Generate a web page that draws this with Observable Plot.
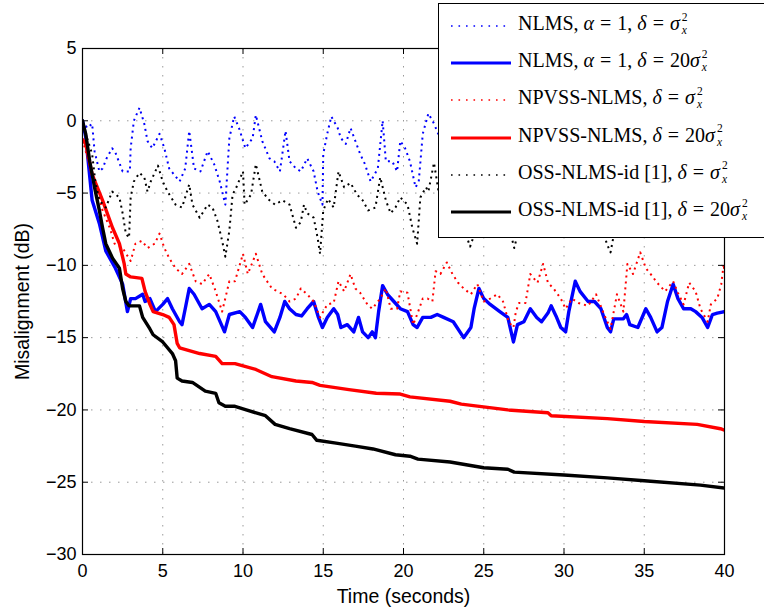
<!DOCTYPE html>
<html>
<head>
<meta charset="utf-8">
<script src="https://cdn.jsdelivr.net/npm/d3@7"></script>
<script src="https://cdn.jsdelivr.net/npm/@observablehq/plot@0.6"></script>
<style>
  html, body { margin: 0; padding: 0; background: #fff; overflow: hidden; }
  #wrap { position: relative; width: 764px; height: 607px; }
  #legend {
    position: absolute; left: 438px; top: 3px; width: 340px; height: 233px;
    background: #fff; border: 1px solid #000;
    font-family: "Liberation Serif", "Times New Roman", serif; font-size: 20px; color: #000;
  }
  .row { position: absolute; left: 0; width: 100%; height: 30px; }
  .row svg { position: absolute; left: 11px; top: 15px; }
  .row .lab { position: absolute; left: 79px; top: 2px; white-space: nowrap; line-height: 26px; }
  .rel { margin: 0 0.3em; }
  .ss { display: inline-block; vertical-align: -4px; font-size: 11.5px; line-height: 13.5px; margin-left: 2px; }
  .ss span, .ss i { display: block; }
</style>
</head>
<body>
<div id="wrap"><div id="legend"></div></div>
<script>
// Misalignment (dB) versus time (s) for the six adaptive-filter configurations.
const xTicks = [0, 5, 10, 15, 20, 25, 30, 35, 40];
const yTicks = [-30, -25, -20, -15, -10, -5, 0, 5];

// NLMS, alpha = 1, delta = sigma_x^2
const nlmsSmallDelta = [
  [0, 0], [0.3, -0.5], [0.6, -0.2], [0.75, -2.1], [1.05, -3.5], [1.25, -3.3], [1.5, -2.6], [1.85, -1.9],
  [2.05, -2.2], [2.5, -3.5], [2.95, -3.5], [3.0, -1.9], [3.2, 0], [3.55, 0.9], [3.85, -0.2], [4.05, -1.4],
  [4.35, -1.9], [4.8, -0.9], [5.1, -1.9], [5.4, -3.3], [6.05, -4.2], [6.4, -3.3], [6.65, -0.7], [6.95, -3.3],
  [7.35, -3.5], [7.8, -2.1], [8.2, -3.0], [8.55, -4.2], [8.9, -5.8], [9.15, -1.2], [9.45, 0.3], [9.75, -0.5],
  [10.15, -1.9], [10.6, -1.2], [10.8, 0.4], [11.2, -1.4], [11.65, -2.6], [11.95, -2.8], [12.3, -3.5], [12.65, -0.7],
  [12.9, -2.8], [13.3, -3.3], [13.6, -3.5], [14.0, -2.6], [14.4, -3.5], [14.65, -4.9], [14.95, -5.8], [15.0, -2.3],
  [15.25, -0.9], [15.5, 0.3], [15.9, -0.5], [16.1, -1.2], [16.4, -1.6], [16.7, -0.5], [17.0, -1.4], [17.3, -2.3],
  [17.6, -3.0], [17.95, -4.2], [18.4, -3.3], [18.7, 0], [18.9, -2.8], [19.3, -2.8], [19.6, -3.5], [19.8, -1.4],
  [20.1, -1.9], [20.4, -2.8], [20.75, -4.6], [20.95, -4.2], [21.2, -0.9], [21.55, 0.5], [21.9, -0.2], [22.2, -1.0]
];

// NLMS, alpha = 1, delta = 20 sigma_x^2
const nlmsLargeDelta = [
  [0, 0], [0.2, -1.1], [0.6, -5.5], [1.05, -7.1], [1.45, -9.0], [2.05, -10.2], [2.5, -11.3], [2.8, -13.2],
  [3.0, -12.3], [3.3, -12.3], [3.75, -12.0], [3.9, -12.5], [4.2, -12.3], [4.55, -13.2], [5.0, -12.7], [5.3, -12.3],
  [5.6, -13.0], [6.05, -13.9], [6.2, -14.1], [6.4, -13.0], [6.65, -11.6], [6.95, -12.0], [7.45, -13.0], [7.9, -12.7],
  [8.3, -13.2], [8.85, -14.6], [9.15, -13.4], [9.8, -13.2], [10.15, -13.6], [10.6, -14.3], [11.1, -12.7], [11.4, -13.9],
  [11.95, -14.6], [12.3, -13.6], [12.6, -12.5], [12.9, -13.0], [13.3, -13.4], [13.65, -13.5], [14.0, -13.0], [14.4, -12.5],
  [14.7, -13.6], [14.95, -14.3], [15.25, -13.6], [15.65, -13.0], [15.9, -13.4], [16.1, -14.3], [16.5, -14.1], [16.9, -14.6],
  [17.2, -13.6], [17.45, -14.6], [17.8, -15.0], [18.05, -14.6], [18.25, -15.0], [18.45, -13.2], [18.7, -11.4], [19.0, -12.0],
  [19.4, -12.5], [19.8, -13.0], [20.25, -13.2], [20.6, -14.1], [20.85, -14.3], [21.2, -13.6], [21.7, -13.6], [22.1, -13.4],
  [22.5, -13.6], [23.1, -13.9], [23.75, -15.0], [24.2, -14.3], [24.4, -13.0], [24.7, -11.6], [25.0, -12.3], [25.4, -12.7],
  [26.0, -13.2], [26.5, -13.6], [26.85, -15.3], [27.1, -14.1], [27.5, -13.9], [27.9, -13.0], [28.3, -13.6], [28.6, -13.9],
  [29.0, -13.3], [29.2, -12.8], [29.5, -13.5], [29.8, -14.3], [30.1, -14.6], [30.3, -13.2], [30.7, -11.1], [31.0, -11.8],
  [31.5, -12.5], [31.9, -12.5], [32.3, -13.0], [32.7, -14.3], [32.9, -14.6], [33.1, -13.7], [33.7, -13.7], [33.9, -13.4],
  [34.1, -14.1], [34.6, -14.3], [35.1, -13.0], [35.4, -13.6], [35.8, -14.6], [36.1, -14.3], [36.45, -12.5], [36.8, -11.3],
  [37.1, -12.3], [37.45, -13.0], [37.9, -13.0], [38.2, -13.2], [38.6, -13.6], [38.95, -14.3], [39.25, -13.4], [39.55, -13.3],
  [40, -13.2]
];

// NPVSS-NLMS, delta = sigma_x^2
const npvssSmallDelta = [
  [0, -1.3], [0.6, -3.7], [1.25, -6.2], [1.7, -7.4], [2.0, -8.5], [2.5, -8.8], [3.0, -9.7], [3.3, -8.5],
  [3.7, -8.3], [4.05, -8.8], [4.5, -8.5], [4.8, -7.8], [5.1, -8.8], [5.4, -9.5], [5.8, -10.2], [6.2, -10.6],
  [6.65, -9.9], [7.05, -11.1], [7.45, -11.3], [7.9, -10.6], [8.3, -11.8], [8.7, -13.2], [9.15, -11.1], [9.5, -11.1],
  [10.0, -9.2], [10.3, -10.6], [10.8, -9.2], [11.2, -10.6], [11.8, -11.6], [12.5, -12.0], [12.9, -12.5], [13.3, -12.3],
  [13.6, -11.6], [14.0, -12.0], [14.4, -12.5], [14.8, -13.6], [15.25, -12.7], [15.65, -12.6], [15.95, -11.1], [16.3, -11.8],
  [16.7, -10.6], [17.0, -11.6], [17.3, -11.9], [17.75, -12.7], [18.05, -13.0], [18.55, -12.3], [18.9, -11.6], [19.2, -13.0],
  [19.6, -13.0], [19.8, -11.8], [20.25, -11.9], [20.6, -14.1], [20.85, -13.4], [21.2, -12.3], [21.5, -12.3], [21.8, -12.5],
  [22.0, -10.4], [22.3, -10.6], [22.7, -9.8], [23.05, -10.6], [23.4, -11.2], [23.75, -11.6], [24.2, -12.0], [24.6, -11.3],
  [25.0, -12.5], [25.4, -12.3], [25.85, -12.0], [26.2, -12.5], [26.55, -13.9], [26.85, -14.3], [27.0, -13.2], [27.2, -12.6],
  [27.6, -12.6], [27.9, -10.6], [28.35, -11.2], [28.7, -9.9], [29.0, -11.2], [29.35, -11.6], [29.8, -12.3], [30.1, -13.0],
  [30.5, -12.3], [30.9, -12.6], [31.5, -12.8], [32.0, -12.0], [32.5, -13.4], [32.9, -14.4], [33.3, -12.0], [33.7, -13.2],
  [33.95, -9.9], [34.3, -10.6], [34.75, -9.1], [35.1, -10.2], [35.4, -10.6], [35.8, -11.2], [36.3, -11.8], [36.8, -11.1],
  [37.1, -11.9], [37.45, -12.7], [37.8, -11.2], [38.2, -11.8], [38.5, -13.0], [38.95, -13.9], [39.15, -12.7], [39.55, -12.3],
  [39.8, -11.3], [39.95, -9.9], [40, -10.5]
];

// NPVSS-NLMS, delta = 20 sigma_x^2
const npvssLargeDelta = [
  [0, -1.3], [0.2, -1.6], [0.6, -3.7], [1.25, -5.5], [1.87, -7.4], [2.3, -8.5], [2.6, -9.9], [2.7, -10.6],
  [3.0, -10.8], [3.7, -10.9], [3.9, -11.8], [4.2, -12.7], [4.4, -13.2], [5.0, -13.4], [5.4, -13.6], [5.7, -14.1],
  [5.9, -15.4], [6.05, -15.7], [7.3, -16.1], [8.3, -16.3], [8.7, -16.8], [9.5, -16.8], [10.8, -17.2], [11.8, -17.7],
  [13.3, -18.0], [14.3, -18.1], [14.8, -18.3], [16.6, -18.6], [18.3, -18.85], [19.8, -18.9], [20.4, -19.1], [22.9, -19.4],
  [23.6, -19.6], [26.5, -20.0], [29.0, -20.2], [29.2, -20.4], [32.7, -20.6], [35.0, -20.8], [38.3, -21.0], [39.75, -21.3],
  [40, -21.4]
];

// OSS-NLMS-id [1], delta = sigma_x^2 (gaps where the values sit behind the legend)
const ossSmallDelta = [
  [0, 0], [0.2, -0.9], [0.6, -2.3], [0.8, -4.2], [1.05, -5.5], [1.45, -6.0], [1.85, -4.9], [2.3, -5.3],
  [2.5, -6.4], [2.7, -7.8], [2.9, -8.1], [3.0, -5.3], [3.2, -4.2], [3.55, -3.6], [3.85, -3.9], [4.05, -4.9],
  [4.25, -4.2], [4.7, -3.1], [5.0, -4.2], [5.3, -4.9], [5.8, -5.8], [6.2, -6.0], [6.65, -4.4], [6.85, -5.8],
  [7.3, -6.7], [7.8, -5.8], [8.1, -6.0], [8.4, -6.9], [8.7, -8.3], [8.9, -9.4], [9.15, -7.6], [9.35, -5.1],
  [9.55, -4.7], [10.0, -3.5], [10.1, -5.8], [10.5, -5.1], [10.8, -3.0], [11.2, -4.9], [11.65, -5.5], [12.0, -5.8],
  [12.45, -5.5], [12.9, -5.8], [13.3, -7.4], [13.6, -7.0], [13.8, -5.8], [14.0, -6.4], [14.4, -6.7], [14.65, -8.1],
  [14.8, -9.2], [15.0, -6.2], [15.3, -5.4], [15.65, -6.0], [15.95, -3.5], [16.3, -4.6], [16.7, -4.3], [17.1, -5.1],
  [17.45, -5.5], [17.8, -6.2], [18.25, -6.0], [18.55, -3.9], [18.9, -5.5], [19.2, -6.4], [19.5, -6.0], [19.8, -5.3],
  [20.25, -5.8], [20.55, -7.4], [20.85, -8.5], [21.05, -5.3], [21.4, -4.6], [21.55, -4.9], [21.9, -2.9], [22.2, -5.0],
  [22.6, null],
  [23.9, -7.9], [24.15, -8.7], [24.4, -7.9],
  [25.5, null],
  [26.7, -7.9], [26.9, -8.8], [27.1, -7.9],
  [30.0, null],
  [32.5, -7.9], [32.7, -8.6], [32.9, -9.1], [33.1, -7.9]
];

// OSS-NLMS-id [1], delta = 20 sigma_x^2
const ossLargeDelta = [
  [0, 0], [0.2, -0.9], [0.45, -2.8], [0.75, -4.6], [1.05, -6.2], [1.25, -7.4], [1.45, -8.5], [1.87, -9.5],
  [2.3, -10.2], [2.5, -11.6], [2.7, -12.5], [2.9, -12.8], [3.55, -12.8], [3.75, -13.6], [4.2, -14.4], [4.4, -14.8],
  [5.0, -15.3], [5.6, -16.1], [5.8, -16.6], [5.9, -17.8], [6.2, -18.0], [6.85, -18.1], [7.65, -18.7], [8.3, -18.85],
  [8.5, -19.5], [8.9, -19.75], [9.5, -19.75], [10.2, -20.0], [11.4, -20.4], [12.0, -21.0], [12.9, -21.3], [14.3, -21.7],
  [14.6, -22.1], [15.8, -22.3], [17.0, -22.5], [18.1, -22.7], [19.5, -23.1], [20.4, -23.2], [20.9, -23.4], [22.9, -23.6],
  [25.0, -24.0], [26.5, -24.1], [26.9, -24.3], [30.0, -24.5], [32.7, -24.7], [35.0, -24.9], [38.5, -25.2], [40, -25.4]
];

// Legend entries, in drawing order
const seriesData = [nlmsSmallDelta, nlmsLargeDelta, npvssSmallDelta, npvssLargeDelta, ossSmallDelta, ossLargeDelta];
const seriesNames = ["NLMS", "NLMS", "NPVSS-NLMS", "NPVSS-NLMS", "OSS-NLMS-id [1]", "OSS-NLMS-id [1]"];
const seriesAlpha = [true, true, false, false, false, false];
const seriesDeltaFactor = ["", "20", "", "20", "", "20"];
const seriesColors = ["#0000ff", "#0000ff", "#ff0000", "#ff0000", "#000000", "#000000"];
const seriesDotted = [true, false, true, false, true, false];

const W = 764, H = 607;
const mL = 82, mR = 40, mT = 48, mB = 53;
const innerW = W - mL - mR, innerH = H - mT - mB;
const tickLen = 6;

const lineMarks = seriesData.map((data, i) => Plot.line(data, {
  x: d => d[0],
  y: d => d[1],
  stroke: seriesColors[i],
  strokeWidth: seriesDotted[i] ? 2 : 3.4,
  strokeDasharray: seriesDotted[i] ? "2 4" : null,
  strokeLinecap: seriesDotted[i] ? "butt" : "round",
  strokeLinejoin: "round"
}));

const gridStyle = {stroke: "#000", strokeOpacity: 0.4, strokeWidth: 1, strokeDasharray: "1.5 7.5"};

const chart = Plot.plot({
  width: W,
  height: H,
  marginLeft: mL,
  marginRight: mR,
  marginTop: mT,
  marginBottom: mB,
  style: {fontFamily: "'Liberation Sans', Arial, sans-serif", fontSize: "18px", background: "#fff", color: "#000", overflow: "visible"},
  x: {domain: [0, 40], ticks: xTicks, label: "Time (seconds)", labelAnchor: "center", labelArrow: "none", labelOffset: 48, tickSize: 0, tickPadding: 10},
  y: {domain: [-30, 5], ticks: yTicks, label: "Misalignment (dB)", labelAnchor: "center", labelArrow: "none", labelOffset: 67, tickSize: 0, tickPadding: 6},
  clip: true,
  marks: [
    Plot.gridX(xTicks, gridStyle),
    Plot.gridY(yTicks, gridStyle),
    ...lineMarks,
    Plot.tickX(xTicks, {x: d => d, insetTop: innerH - tickLen, stroke: "#000", clip: false}),
    Plot.tickX(xTicks, {x: d => d, insetBottom: innerH - tickLen, stroke: "#000", clip: false}),
    Plot.tickY(yTicks, {y: d => d, insetRight: innerW - tickLen, stroke: "#000", clip: false}),
    Plot.tickY(yTicks, {y: d => d, insetLeft: innerW - tickLen, stroke: "#000", clip: false}),
    Plot.frame({stroke: "#000", strokeWidth: 1.2})
  ]
});
// Axis titles a touch larger than the tick labels
chart.querySelectorAll('g[aria-label="x-axis label"], g[aria-label="y-axis label"]').forEach(g => g.setAttribute("font-size", "19.5px"));
document.getElementById("wrap").prepend(chart);

// Legend box drawn over the upper right of the axes
const legend = document.getElementById("legend");
const svgNS = "http://www.w3.org/2000/svg";
seriesNames.forEach((name, i) => {
  const row = document.createElement("div");
  row.className = "row";
  row.style.top = (4 + i * 37.2) + "px";
  const s = document.createElementNS(svgNS, "svg");
  s.setAttribute("width", 62);
  s.setAttribute("height", 6);
  const ln = document.createElementNS(svgNS, "line");
  ln.setAttribute("x1", 1); ln.setAttribute("x2", 61);
  ln.setAttribute("y1", 3); ln.setAttribute("y2", 3);
  ln.setAttribute("stroke", seriesColors[i]);
  ln.setAttribute("stroke-width", seriesDotted[i] ? 1.6 : 3.2);
  if (seriesDotted[i]) ln.setAttribute("stroke-dasharray", "1.6 5.9");
  s.appendChild(ln);
  row.appendChild(s);
  const lab = document.createElement("span");
  lab.className = "lab";
  lab.innerHTML = name + ", " +
    (seriesAlpha[i] ? '<i>α</i><span class="rel">=</span>1, ' : "") +
    '<i>δ</i><span class="rel">=</span>' + seriesDeltaFactor[i] +
    '<i>σ</i><span class="ss"><span>2</span><i>x</i></span>';
  row.appendChild(lab);
  legend.appendChild(row);
});
</script>
</body>
</html>
